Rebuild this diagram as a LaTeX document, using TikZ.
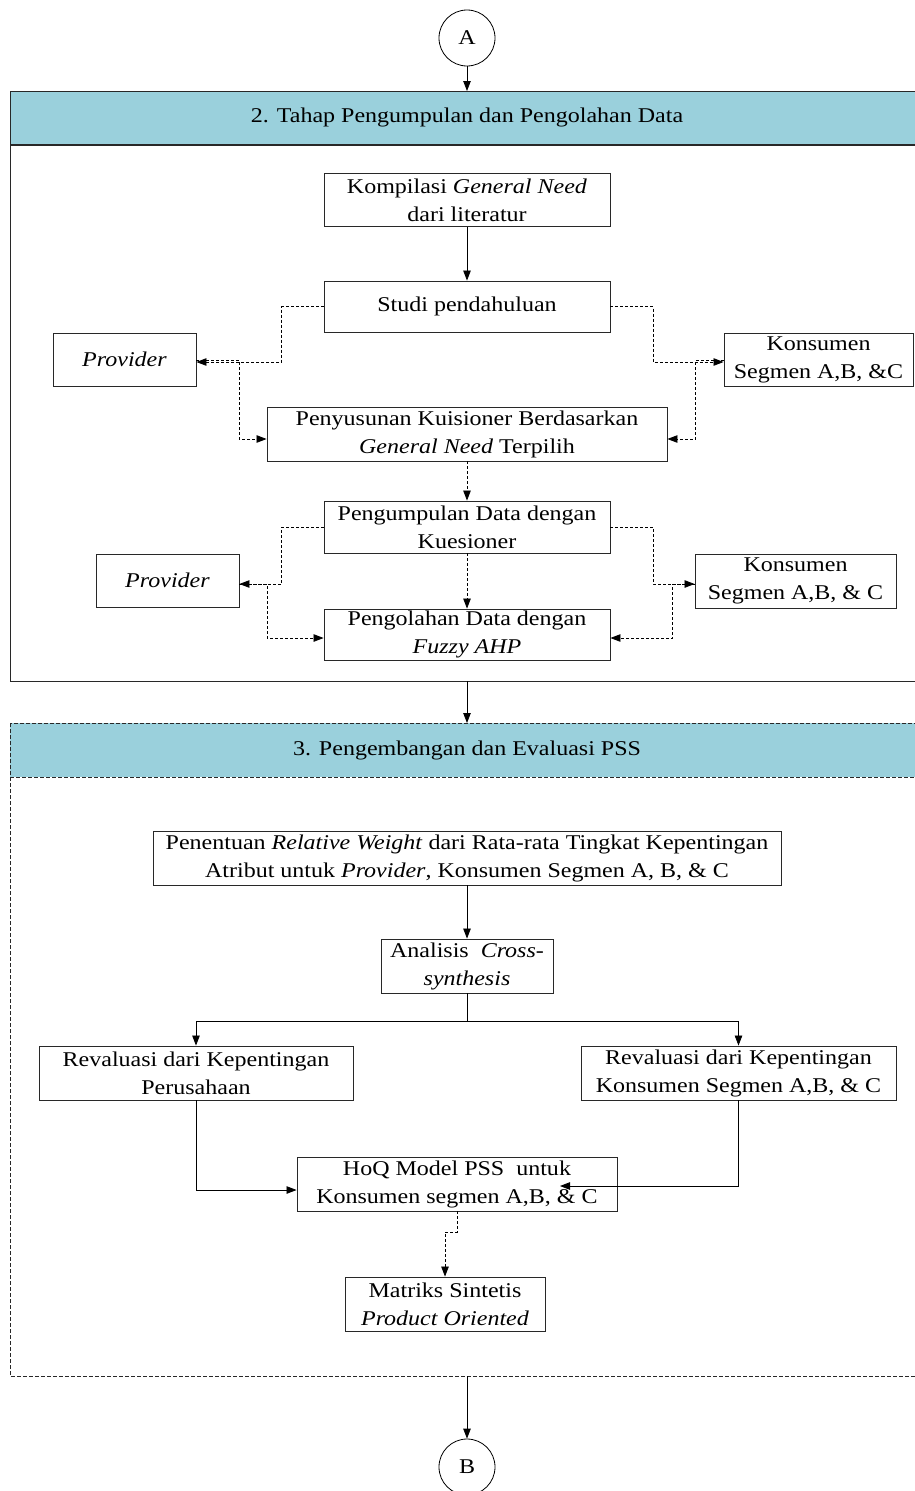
\documentclass[tikz,border=0pt]{standalone}
\usepackage{fontspec}
\setmainfont{Liberation Serif}[FakeStretch=1.143]
\usetikzlibrary{arrows.meta,positioning,calc}
\definecolor{headblue}{RGB}{154,208,220}
\definecolor{edge}{RGB}{40,40,40}
\begin{document}
\begin{tikzpicture}[x=1pt,y=-1pt,
  font=\fontsize{21}{28}\selectfont,
  box/.style 2 args={draw=edge, line width=0.9pt, fill=white, align=center,
    inner sep=1pt, minimum width=#1pt, minimum height=#2pt},
  conn/.style={draw=black, line width=0.8pt, -{Triangle[length=10pt,width=7.5pt]}},
  line/.style={draw=black, line width=0.8pt},
  dconn/.style={conn, dash pattern=on 3pt off 2pt},
  circ/.style={draw=black, line width=0.8pt, circle, minimum size=56pt, inner sep=0pt},
  dsec/.style={draw=edge, line width=0.8pt, dash pattern=on 4pt off 2pt}]
\useasboundingbox (0,0) rectangle (915,1491);
\clip (0,0) rectangle (915,1491);

% ---- connector A ----
\node[circ] (circA) at (467,38) {A};

% ---- section 2: data collection and processing ----
\draw[line width=0.9pt, draw=edge] (10,91) rectangle (930,681);
\fill[headblue] (10,91) rectangle (930,145);
\draw[line width=0.9pt, draw=edge] (10,145) -- (10,91) -- (930,91);
\draw[line width=1.6pt, draw=edge] (10,145) -- (930,145);
\node (sec2) at (467,117) {2. Tahap Pengumpulan dan Pengolahan Data};
\coordinate (sec2top) at (467,91);
\coordinate (sec2bot) at (467,681);

\node[box={286}{53}] (komp) at (467,200) {Kompilasi \textit{General Need}\\dari literatur};
\node[box={286}{51}] (studi) at (467,306.5) {Studi pendahuluan};
\node[box={143}{53}] (prov1) at (124.5,359.5) {\textit{Provider}};
\node[box={189}{53}] (kons1) at (818.5,359.5) {Konsumen\\Segmen A,B, \&C};
\node[box={400}{54}] (peny) at (467,434) {Penyusunan Kuisioner Berdasarkan\\\textit{General Need} Terpilih};
\node[box={286}{52}] (kump) at (467,527) {Pengumpulan Data dengan\\Kuesioner};
\node[box={143}{53}] (prov2) at (167.5,580.5) {\textit{Provider}};
\node[box={201}{54}] (kons2) at (795.5,581) {Konsumen\\Segmen A,B, \& C};
\node[box={286}{51}] (olah) at (467,634.5) {Pengolahan Data dengan\\\textit{Fuzzy AHP}};

\draw[conn] (circA) -- (sec2top);
\draw[conn] (komp) -- (studi);

% dashed exchanges, first round
\draw[dconn] (studi.west) -- ++(-42,0) |- ([yshift=-2.5pt]prov1.east);
\draw[dconn] ([yshift=-0.5pt]prov1.east) -- ++(43,0) |- ([yshift=-5pt]peny.west);
\draw[dconn] (studi.east) -- ++(43,0) |- ([yshift=-2.5pt]kons1.west);
\draw[dconn] ([yshift=-0.5pt]kons1.west) -- ++(-28,0) |- ([yshift=-5pt]peny.east);
\draw[dconn] (peny) -- (kump);

% dashed exchanges, second round
\draw[dconn] (kump.west) -- ++(-42,0) |- ([yshift=-3.5pt]prov2.east);
\draw[dconn] ([yshift=-3.5pt]prov2.east) -- ++(28,0) |- ([yshift=-3.5pt]olah.west);
\draw[dconn] (kump.east) -- ++(43,0) |- ([yshift=-3pt]kons2.west);
\draw[dconn] ([yshift=-3pt]kons2.west) -- ++(-22,0) |- ([yshift=-3.5pt]olah.east);
\draw[dconn] (kump) -- (olah);

% ---- section 3: PSS development and evaluation ----
\fill[headblue] (10,723) rectangle (930,777);
\draw[dsec] (10,723) rectangle (930,1376);
\draw[dsec] (10,777) -- (930,777);
\node (sec3) at (467,750) {3. Pengembangan dan Evaluasi PSS};
\coordinate (sec3top) at (467,723);
\coordinate (sec3bot) at (467,1376);
\draw[conn] (sec2bot) -- (sec3top);

\node[box={628}{54}] (pen) at (467,858) {Penentuan \textit{Relative Weight} dari Rata-rata Tingkat Kepentingan\\Atribut untuk \textit{Provider}, Konsumen Segmen A, B, \& C};
\node[box={172}{54}] (anal) at (467,966) {Analisis\ \ \textit{Cross-}\\\textit{synthesis}};
\node[box={314}{54}] (revP) at (196,1073) {Revaluasi dari Kepentingan\\Perusahaan};
\node[box={315}{54}] (revK) at (738.5,1073) {Revaluasi dari Kepentingan\\Konsumen Segmen A,B, \& C};
\node[box={320}{54}] (hoq) at (457,1184) {HoQ Model PSS\ \ untuk\\Konsumen segmen A,B, \& C};
\node[box={200}{54}] (mat) at (445,1304) {Matriks Sintetis\\\textit{Product Oriented}};
\coordinate (hoqin) at (560,1186);

\draw[conn] (pen) -- (anal);
\draw[line] (anal.south) -- ++(0,28) coordinate (split);
\draw[conn] (split) -| (revP.north);
\draw[conn] (split) -| (revK.north);
\draw[conn] (revP.south) |- ([yshift=-6pt]hoq.west);
\draw[conn] (revK.south) |- (hoqin);
\draw[dconn] (hoq.south) -- ++(0,21) -| (mat.north);

% ---- connector B ----
\node[circ] (circB) at (467,1467) {B};
\draw[conn] (sec3bot) -- (circB);
\end{tikzpicture}
\end{document}
